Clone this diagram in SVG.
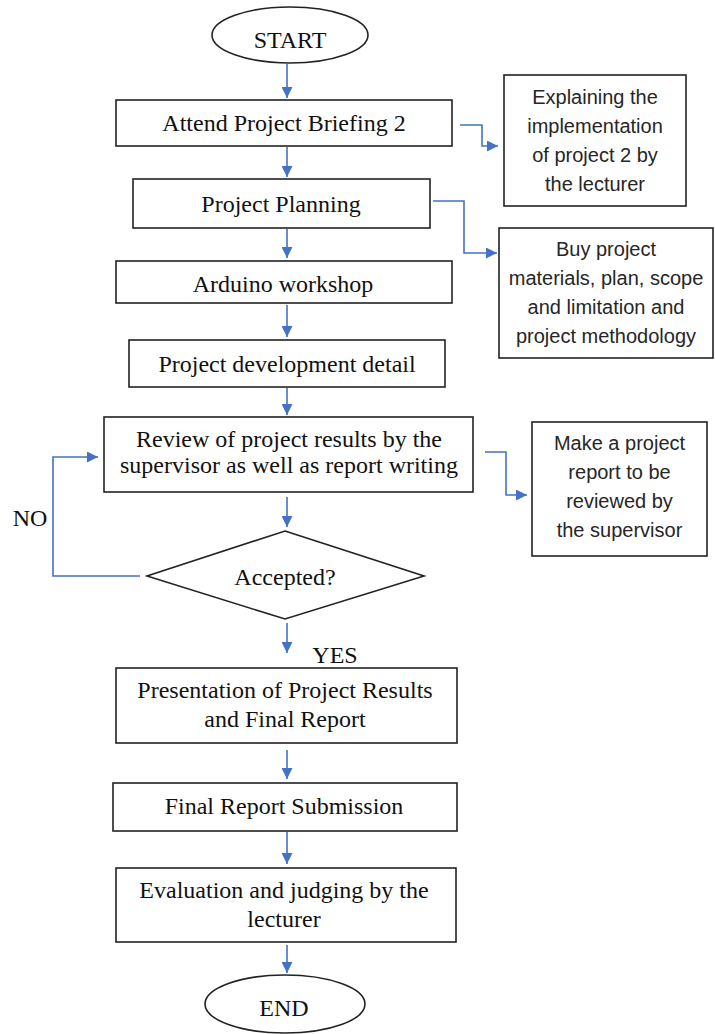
<svg xmlns="http://www.w3.org/2000/svg" width="715" height="1034" viewBox="0 0 715 1034">
<defs>
<marker id="ah" viewBox="0 0 10 10" refX="10" refY="5" markerWidth="11" markerHeight="11" markerUnits="userSpaceOnUse" orient="auto">
<path d="M0,0 L10,5 L0,10 z" fill="#4472C4"/>
</marker>
<style>
.box{fill:#fff;stroke:#222;stroke-width:1.6}
.t{font-family:"Liberation Serif","Times New Roman",serif;font-size:24px;fill:#111;text-anchor:middle}
.s{font-family:"Liberation Sans",Arial,sans-serif;font-size:20px;fill:#262626;text-anchor:middle}
.c{fill:none;stroke:#4472C4;stroke-width:1.6;marker-end:url(#ah)}
</style>
</defs>
<rect width="715" height="1034" fill="#fff"/>
<g id="connectors">
<path class="c" d="M287 64 V98"/>
<path class="c" d="M287 147 V177"/>
<path class="c" d="M287 229 V258"/>
<path class="c" d="M287 305 V337"/>
<path class="c" d="M287 388 V415"/>
<path class="c" d="M287 497 V527"/>
<path class="c" d="M287 623 V653"/>
<path class="c" d="M287 750 V779"/>
<path class="c" d="M287 832 V864"/>
<path class="c" d="M287 945 V973"/>
<path class="c" d="M460 125 H482 V146 H498"/>
<path class="c" d="M433 201 H464 V253 H497"/>
<path class="c" d="M485 452 H506 V495 H527"/>
<path class="c" d="M140 576 H53 V457 H98"/>
</g>
<g id="start"><ellipse class="box" cx="290" cy="35" rx="78" ry="28"/><text class="t" x="290" y="48">START</text></g>
<g id="attend"><rect class="box" x="116" y="100" width="336" height="46"/><text class="t" x="284" y="131">Attend Project Briefing 2</text></g>
<g id="explain"><rect class="box" x="504" y="75" width="182" height="131"/>
<text class="s" x="595" y="104">Explaining the</text>
<text class="s" x="595" y="133">implementation</text>
<text class="s" x="595" y="162">of project 2 by</text>
<text class="s" x="595" y="191">the lecturer</text></g>
<g id="planning"><rect class="box" x="133" y="179" width="297" height="49"/><text class="t" x="281" y="212">Project Planning</text></g>
<g id="buy"><rect class="box" x="499" y="228" width="214" height="130"/>
<text class="s" x="606" y="256">Buy project</text>
<text class="s" x="606" y="285">materials, plan, scope</text>
<text class="s" x="606" y="314">and limitation and</text>
<text class="s" x="606" y="343">project methodology</text></g>
<g id="arduino"><rect class="box" x="116" y="261" width="336" height="42"/><text class="t" x="283" y="292">Arduino workshop</text></g>
<g id="pdd"><rect class="box" x="129" y="340" width="316" height="47"/><text class="t" x="287" y="372">Project development detail</text></g>
<g id="review"><rect class="box" x="104" y="417" width="369" height="75"/>
<text class="t" x="289" y="447">Review of project results by the</text>
<text class="t" x="289" y="473">supervisor as well as report writing</text></g>
<g id="make"><rect class="box" x="532" y="422" width="175" height="134"/>
<text class="s" x="619.5" y="450">Make a project</text>
<text class="s" x="619.5" y="479">report to be</text>
<text class="s" x="619.5" y="508">reviewed by</text>
<text class="s" x="619.5" y="537">the supervisor</text></g>
<g id="decision"><polygon class="box" points="285,531 424,576 285,619 147,576"/><text class="t" x="285" y="585">Accepted?</text></g>
<g id="no-label"><text class="t" x="30" y="526">NO</text></g>
<g id="yes-label"><text class="t" x="335" y="663">YES</text></g>
<g id="presentation"><rect class="box" x="116" y="668" width="341" height="75"/>
<text class="t" x="285" y="698">Presentation of Project Results</text>
<text class="t" x="285" y="727">and Final Report</text></g>
<g id="submission"><rect class="box" x="113" y="783" width="344" height="48"/><text class="t" x="284" y="814">Final Report Submission</text></g>
<g id="evaluation"><rect class="box" x="116" y="868" width="340" height="74"/>
<text class="t" x="284" y="898">Evaluation and judging by the</text>
<text class="t" x="284" y="927">lecturer</text></g>
<g id="end"><ellipse class="box" cx="285" cy="1004" rx="80" ry="29"/><text class="t" x="284" y="1016">END</text></g>
</svg>
